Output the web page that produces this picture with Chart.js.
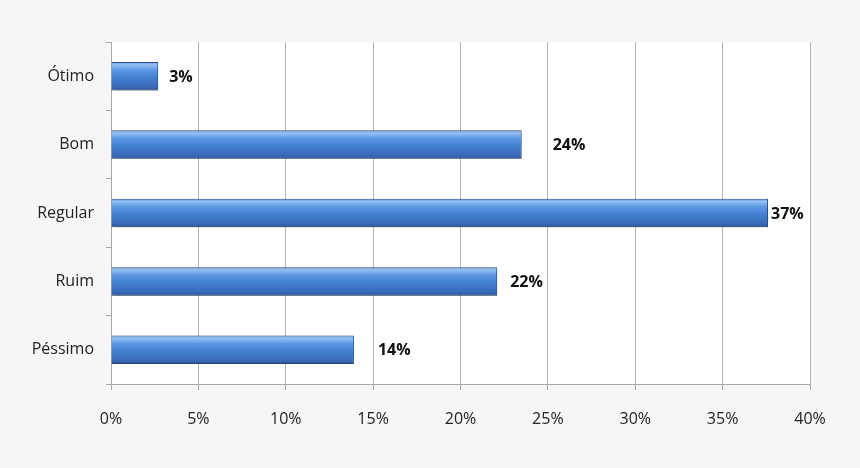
<!DOCTYPE html>
<html>
<head>
  <meta charset="utf-8">
  <title>Avaliação</title>
  <script src="https://cdn.jsdelivr.net/npm/chart.js"></script>
  <style>
    html, body {
      margin: 0;
      padding: 0;
      background: #f6f6f6;
    }
    #wrap {
      width: 860px;
      height: 468px;
    }
  </style>
</head>
<body>
  <div id="wrap"><canvas id="barChart"></canvas></div>

  <script>
    // data
    const categories = ['Ótimo', 'Bom', 'Regular', 'Ruim', 'Péssimo'];
    const percents   = [2.7, 23.5, 37.6, 22.1, 13.9];
    const valueLabels = ['3%', '24%', '37%', '22%', '14%'];
    const xTicks     = [0, 5, 10, 15, 20, 25, 30, 35, 40];

    const FONT = '"Open Sans", "DejaVu Sans", sans-serif';

    // vertical gradient per bar, worked out from the scale (elements aren't placed yet)
    function barFill(c) {
      const chart = c.chart;
      const y = chart.scales.y;
      if (!y || !chart.chartArea) return '#437fd0';
      const mid = y.getPixelForValue(c.dataIndex);
      const half = (y.height / categories.length) * 0.8 * 0.52 / 2;
      const g = chart.ctx.createLinearGradient(0, mid - half, 0, mid + half);
      g.addColorStop(0, '#6a9ce0');
      g.addColorStop(0.1, '#94c0f4');
      g.addColorStop(0.28, '#5c98e4');
      g.addColorStop(0.55, '#437fd0');
      g.addColorStop(0.88, '#3869b6');
      g.addColorStop(1, '#2c5796');
      return g;
    }

    const plotBg = {
      id: 'plotBg',
      beforeDraw(chart) {
        const a = chart.chartArea;
        const ctx = chart.ctx;
        ctx.save();
        ctx.fillStyle = '#ffffff';
        ctx.fillRect(a.left, a.top, a.right - a.left, a.bottom - a.top);
        ctx.restore();
      }
    };

    const barShadow = {
      id: 'barShadow',
      beforeDatasetsDraw(chart) {
        const ctx = chart.ctx;
        ctx.save();
        ctx.shadowColor = 'rgba(0,0,0,0.35)';
        ctx.shadowBlur = 4;
        ctx.shadowOffsetX = 1;
        ctx.shadowOffsetY = 2;
      },
      afterDatasetsDraw(chart) {
        chart.ctx.restore();
      }
    };

    const valueText = {
      id: 'valueText',
      afterDatasetsDraw(chart, args, opts) {
        const ctx = chart.ctx;
        const meta = chart.getDatasetMeta(0);
        ctx.save();
        ctx.font = 'bold 16px ' + FONT;
        ctx.fillStyle = '#111';
        ctx.textAlign = 'left';
        ctx.textBaseline = 'middle';
        meta.data.forEach((bar, i) => {
          ctx.fillText(valueLabels[i], bar.x + opts.gaps[i], bar.y + 1);
        });
        ctx.restore();
      }
    };

    new Chart(document.getElementById('barChart'), {
      type: 'bar',
      data: {
        labels: categories,
        datasets: [{
          data: percents,
          backgroundColor: barFill,
          borderColor: '#2b5690',
          borderWidth: 1,
          borderSkipped: 'left',
          categoryPercentage: 0.8,
          barPercentage: 0.52
        }]
      },
      options: {
        indexAxis: 'y',
        responsive: true,
        maintainAspectRatio: false,
        animation: false,
        layout: { padding: { left: 0, right: 50, top: 42, bottom: 0 } },
        plugins: {
          legend: { display: false },
          tooltip: { enabled: false },
          valueText: { gaps: [11, 31, 3, 13, 24] }
        },
        scales: {
          x: {
            min: 0,
            max: 40,
            afterBuildTicks(scale) {
              scale.ticks = xTicks.map(v => ({ value: v }));
            },
            afterFit(scale) { scale.height = 84; },
            grid: {
              color: '#b4b4b4',
              lineWidth: 1,
              tickLength: 6,
              tickColor: '#a8a8a8'
            },
            border: { color: '#a8a8a8', width: 1 },
            ticks: {
              padding: 20,
              color: '#222',
              font: { family: FONT, size: 16 },
              callback: v => v + '%'
            }
          },
          y: {
            afterFit(scale) { scale.width = 111; },
            grid: {
              offset: true,
              drawOnChartArea: false,
              tickLength: 5,
              tickColor: '#a8a8a8'
            },
            border: { color: '#a8a8a8', width: 1 },
            ticks: {
              padding: 12,
              color: '#222',
              font: { family: FONT, size: 16 }
            }
          }
        }
      },
      plugins: [plotBg, barShadow, valueText]
    });
  </script>
</body>
</html>
